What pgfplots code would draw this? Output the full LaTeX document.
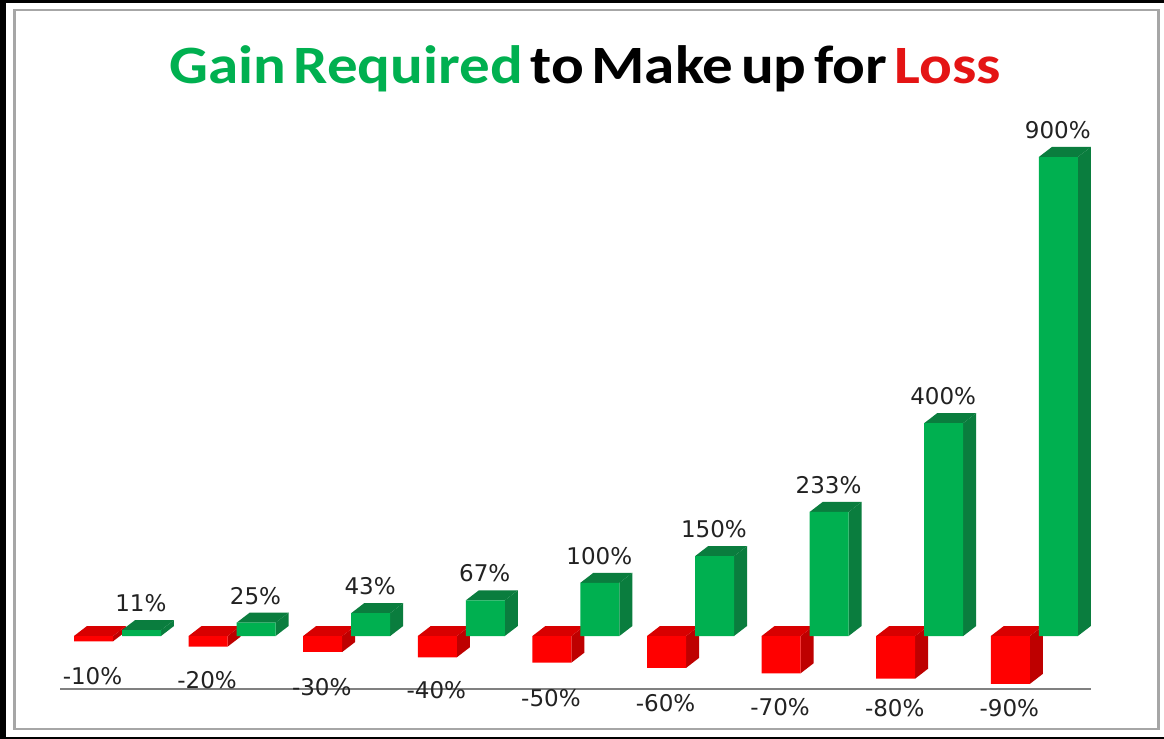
\documentclass[border=0pt]{standalone}
\usepackage{fontspec}
\usepackage{graphicx}
\usepackage{pgfplots}
\usepackage{pgfplotstable}
\pgfplotsset{compat=1.18}
\setmainfont{DejaVu Sans}
\newfontfamily\titlefont[WordSpace=0.55]{Carlito}
\definecolor{gfront}{HTML}{00B050}
\definecolor{gdark}{HTML}{0A7D3E}
\definecolor{rfront}{HTML}{FF0000}
\definecolor{rtop}{HTML}{D80000}
\definecolor{rside}{HTML}{BE0000}
\definecolor{tred}{HTML}{E41414}
\definecolor{framegray}{HTML}{A6A6A6}
\definecolor{linegray}{HTML}{808080}
\definecolor{labelc}{HTML}{222222}
% i, loss, label height of the loss figure
\pgfplotstableread{
i v ly
1 -10 -75.2
2 -20 -83.6
3 -30 -95.8
4 -40 -101.5
5 -50 -116.5
6 -60 -125.9
7 -70 -133.4
8 -80 -135.3
9 -90 -135.3
}\losstable
\pgfplotstableread{
i v
1 11
2 25
3 43
4 67
5 100
6 150
7 233
8 400
9 900
}\gaintable
% parallelogram faces of one bar: #1 left, #2 right, #3 top value, #4 base value, #5 top colour, #6 side colour
\newcommand{\barfaces}[6]{%
  \edef\tmpa{\noexpand\addplot[fill=#6,draw=none,forget plot] coordinates {
    (\fpeval{#2},\fpeval{#3}) (\fpeval{#2+0.1134},\fpeval{#3+18.8})
    (\fpeval{#2+0.1134},\fpeval{#4+18.8}) (\fpeval{#2},\fpeval{#4})} --cycle;}\tmpa
  \edef\tmpb{\noexpand\addplot[fill=#5,draw=none,forget plot] coordinates {
    (\fpeval{#1},\fpeval{#3}) (\fpeval{#2},\fpeval{#3})
    (\fpeval{#2+0.1134},\fpeval{#3+18.8}) (\fpeval{#1+0.1134},\fpeval{#3+18.8})} --cycle;}\tmpb
}
\begin{document}
\begin{tikzpicture}
\begin{axis}[
  scale only axis, width=582pt, height=369.5pt,
  xmin=-0.0297, xmax=10.127, ymin=-193.5, ymax=1195,
  hide axis, clip=true,
  every node near coord/.style={anchor=center,font=\fontsize{11.5}{13}\selectfont,text=labelc,inner sep=0pt},
]
% outer picture frame
\addplot[fill=black,draw=none,forget plot] coordinates {(-0.0297,-193.5) (10.127,-193.5) (10.127,1195) (-0.0297,1195)} --cycle;
\fill[white] (rel axis cs:0.0052,0.0027) rectangle (rel axis cs:1,0.9966);
\draw[framegray,line width=1.1pt] (rel axis cs:0.0125,0.0135) rectangle (rel axis cs:0.9953,0.9865);

% x axis line
\addplot[linegray,line width=1pt,forget plot] coordinates {(0.494,-100.2) (9.49,-100.2)};

% loss bars
\foreach \i/\v in {1/-10,2/-20,3/-30,4/-40,5/-50,6/-60,7/-70,8/-80,9/-90}{
  \barfaces{\i-0.384}{\i-0.0436}{0}{\v}{rtop}{rside}
}
\addplot[ybar,bar width=19.5pt,bar shift=-12.25pt,fill=rfront,draw=none,forget plot] table[x=i,y=v] {\losstable};

% gain bars
\foreach \i/\v in {1/11,2/25,3/43,4/67,5/100,6/150,7/233,8/400,9/900}{
  \barfaces{\i+0.035}{\i+0.375}{\v}{0}{gdark}{gdark}
}
\addplot[ybar,bar width=19.5pt,bar shift=11.75pt,fill=gfront,draw=none,forget plot] table[x=i,y=v] {\gaintable};

% value labels
\addplot[draw=none,mark=none,forget plot,point meta=explicit symbolic,
  nodes near coords={\pgfplotspointmeta\%}]
  table[x expr=\thisrow{i}-0.2225,y=ly,meta=v] {\losstable};
\addplot[draw=none,mark=none,forget plot,point meta=explicit symbolic,
  nodes near coords={\pgfplotspointmeta\%}]
  table[x expr=\thisrow{i}+0.2,y expr=\thisrow{v}+50.7,meta=v] {\gaintable};

% title
\node[anchor=base,inner sep=0pt,font=\titlefont\bfseries\fontsize{27}{32}\selectfont]
  at (rel axis cs:0.5027,0.8875)
  {\scalebox{1.131}[1]{\textcolor{gfront}{Gain Required} \textcolor{black}{to Make up for} \textcolor{tred}{Loss}}};
\end{axis}
\end{tikzpicture}
\end{document}
